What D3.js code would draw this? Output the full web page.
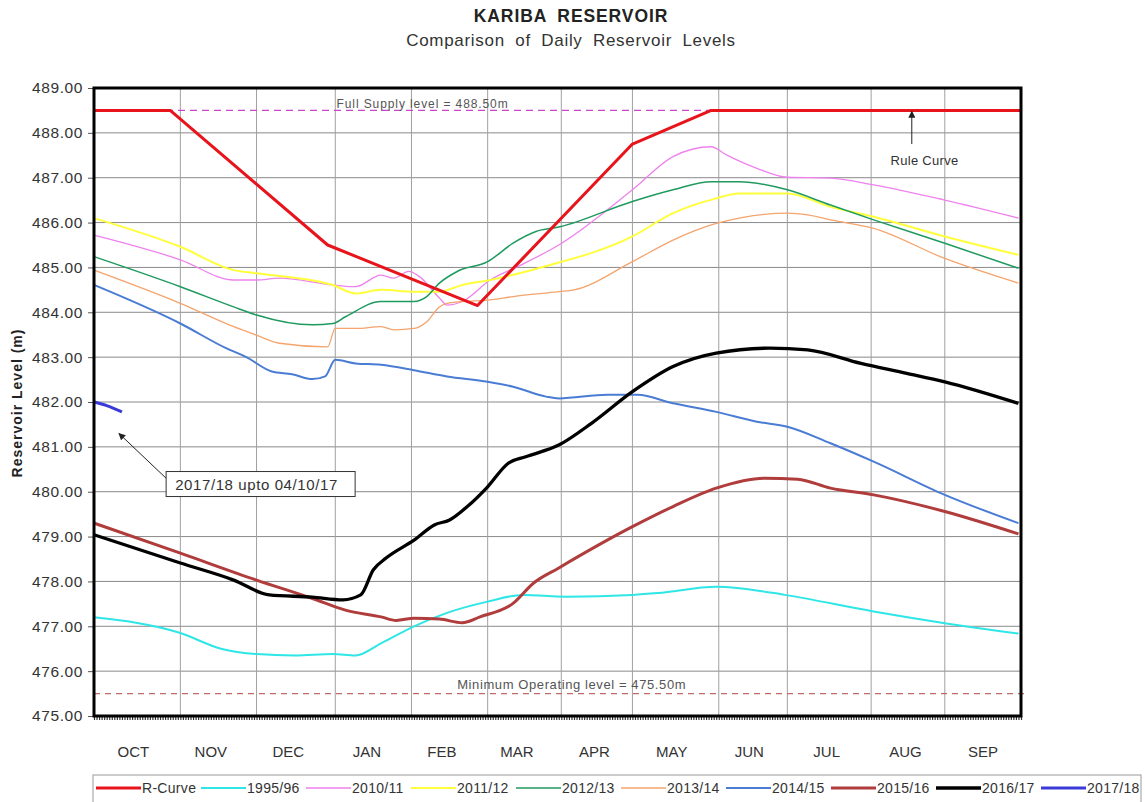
<!DOCTYPE html>
<html>
<head>
<meta charset="utf-8">
<title>Kariba Reservoir</title>
<script src="https://cdn.jsdelivr.net/npm/d3@7"></script>
<style>
    body { margin: 0; background: #fff; }
    svg { font-family: "Liberation Sans", Arial, sans-serif; }
    .gridH { stroke: #8a8a8a; stroke-width: 1; }
    .gridV { stroke: #a0a0a0; stroke-width: 1; }
    .mlab { font-size: 15px; fill: #333; }
    .legtext { font-size: 14px; fill: #333; letter-spacing: 0.3px; }
</style>
</head>
<body>
<script>
//day of hydrological year (0 = 1 Oct) and level in metres
var rCurve = [[0, 488.5], [30, 488.5], [92, 485.5], [151, 484.15], [212, 487.75], [243, 488.5], [365, 488.5]];

var y1995 = [[0, 477.2], [34, 476.85], [50, 476.5], [64, 476.38], [79, 476.35], [94, 476.38], [103, 476.35],
    [113, 476.62], [126, 477.0], [139, 477.3], [155, 477.55], [169, 477.7], [186, 477.66], [212, 477.7],
    [222, 477.74], [245, 477.88], [254, 477.85], [272, 477.7], [307, 477.33], [335, 477.07], [364, 476.84]];

var y2010 = [[0, 485.72], [34, 485.17], [55, 484.72], [64, 484.72], [73, 484.76], [94, 484.61], [103, 484.57],
    [113, 484.83], [118, 484.76], [124, 484.91], [128, 484.8], [136, 484.32], [139, 484.16], [145, 484.24],
    [156, 484.72], [168, 485.05], [183, 485.5], [212, 486.73], [228, 487.47], [243, 487.69], [249, 487.51],
    [261, 487.21], [273, 487.01], [290, 486.99], [307, 486.84], [335, 486.5], [364, 486.1]];

var y2011 = [[0, 486.1], [34, 485.46], [55, 484.94], [64, 484.87], [94, 484.61], [103, 484.42], [113, 484.5],
    [126, 484.46], [136, 484.46], [145, 484.61], [156, 484.72], [176, 485.0], [212, 485.69], [228, 486.21],
    [245, 486.54], [254, 486.65], [273, 486.65], [290, 486.35], [307, 486.13], [335, 485.69], [364, 485.28]];

var y2012 = [[0, 485.24], [34, 484.57], [55, 484.12], [64, 483.94], [86, 483.72], [94, 483.75], [99, 483.9],
    [113, 484.24], [126, 484.24], [131, 484.35], [136, 484.65], [143, 484.91], [155, 485.13], [165, 485.54],
    [174, 485.8], [183, 485.9], [212, 486.47], [228, 486.73], [243, 486.91], [254, 486.91], [273, 486.73],
    [290, 486.39], [307, 486.06], [335, 485.54], [364, 484.98]];

var y2013 = [[0, 484.94], [34, 484.2], [55, 483.68], [64, 483.49], [73, 483.31], [92, 483.23], [95, 483.64],
    [103, 483.64], [113, 483.68], [118, 483.61], [126, 483.64], [131, 483.79], [136, 484.12], [139, 484.2],
    [145, 484.24], [155, 484.27], [165, 484.35], [183, 484.46], [189, 484.5], [212, 485.13], [228, 485.61],
    [245, 485.98], [254, 486.1], [273, 486.21], [281, 486.17], [290, 486.06], [307, 485.87], [335, 485.2],
    [364, 484.65]];

var y2014 = [[0, 484.61], [34, 483.75], [52, 483.2], [60, 483.0], [70, 482.68], [78, 482.62], [86, 482.51],
    [91, 482.57], [95, 482.94], [103, 482.86], [113, 482.83], [126, 482.71], [139, 482.57], [155, 482.45],
    [165, 482.34], [178, 482.12], [183, 482.08], [202, 482.16], [214, 482.16], [228, 481.97], [245, 481.78],
    [261, 481.56], [273, 481.45], [290, 481.08], [307, 480.67], [335, 479.93], [364, 479.3]];

var y2015 = [[0, 479.3], [34, 478.63], [64, 478.03], [86, 477.62], [99, 477.36], [113, 477.21], [119, 477.13],
    [126, 477.18], [136, 477.16], [145, 477.08], [152, 477.21], [165, 477.51], [173, 477.96], [183, 478.3],
    [212, 479.22], [228, 479.67], [245, 480.08], [264, 480.3], [277, 480.28], [290, 480.08], [307, 479.93],
    [335, 479.56], [364, 479.06]];

var y2016 = [[0, 479.04], [34, 478.41], [55, 478.03], [69, 477.7], [86, 477.65], [98, 477.59], [105, 477.7],
    [110, 478.26], [115, 478.52], [126, 478.92], [134, 479.26], [140, 479.37], [147, 479.67], [155, 480.11],
    [163, 480.63], [170, 480.78], [183, 481.04], [196, 481.53], [212, 482.23], [228, 482.79], [245, 483.09],
    [266, 483.2], [281, 483.16], [302, 482.86], [320, 482.64], [335, 482.45], [364, 481.97]];

var y2017 = [[0, 482.0], [5, 481.92], [11, 481.78]];

var seriesNames = ["R-Curve", "1995/96", "2010/11", "2011/12", "2012/13", "2013/14", "2014/15", "2015/16", "2016/17", "2017/18"];
var seriesData = [rCurve, y1995, y2010, y2011, y2012, y2013, y2014, y2015, y2016, y2017];
var seriesColors = ["#e8141c", "#2ee6e6", "#ee82ee", "#ffff3c", "#1f9a5e", "#f4a46c", "#4a7cd4", "#b03c3c", "#000000", "#3a3ad8"];
var seriesWidths = [3, 2, 1.3, 2, 1.5, 1.3, 2, 3, 3.3, 3];

var monthNames = ["OCT", "NOV", "DEC", "JAN", "FEB", "MAR", "APR", "MAY", "JUN", "JUL", "AUG", "SEP"];
//vertical grid lines as they sit in the picture (day of year)
var gridDays = [34, 64, 95, 125, 155, 184, 212, 246, 273, 306, 335];
var yTicks = [475, 476, 477, 478, 479, 480, 481, 482, 483, 484, 485, 486, 487, 488, 489];
var fullSupply = 488.5,
    minOperating = 475.5;

window.onload = drawChart();

function drawChart(){
    var width = 1145,
        height = 802;
    var margin = {left: 94, top: 88, right: 124, bottom: 86};
    var plotW = width - margin.left - margin.right,
        plotH = height - margin.top - margin.bottom;

    var svg = d3.select("body")
        .append("svg")
        .attr("width", width)
        .attr("height", height);

    //titles
    svg.append("text")
        .attr("x", 571).attr("y", 22)
        .attr("text-anchor", "middle")
        .style("font-size", "17.5px").style("font-weight", "bold").style("fill", "#222")
        .style("letter-spacing", "0.9px").style("word-spacing", "5px")
        .text("KARIBA RESERVOIR");
    svg.append("text")
        .attr("x", 571).attr("y", 46)
        .attr("text-anchor", "middle")
        .style("font-size", "17px").style("fill", "#333")
        .style("letter-spacing", "0.7px").style("word-spacing", "5px")
        .text("Comparison of Daily Reservoir Levels");

    var g = svg.append("g")
        .attr("transform", "translate(" + margin.left + "," + margin.top + ")");

    //scales
    var x = d3.scaleLinear().domain([0, 365]).range([0, plotW]);
    var y = d3.scaleLinear().domain([475, 489]).range([plotH, 0]);

    //month starts from the calendar, used to centre the month names
    var start = new Date(2016, 9, 1);
    var monthStarts = d3.timeMonth.range(start, new Date(2017, 9, 2)).map(function(d){
        return d3.timeDay.count(start, d);
    });

    //grid lines
    g.selectAll(".gridH")
        .data(yTicks.slice(1, -1))
        .enter()
        .append("line")
        .attr("class", "gridH")
        .attr("x1", 0).attr("x2", plotW)
        .attr("y1", function(d){ return y(d); })
        .attr("y2", function(d){ return y(d); });

    g.selectAll(".gridV")
        .data(gridDays)
        .enter()
        .append("line")
        .attr("class", "gridV")
        .attr("x1", function(d){ return x(d); })
        .attr("x2", function(d){ return x(d); })
        .attr("y1", 0).attr("y2", plotH);

    //y axis labels and ticks
    var yAxis = d3.axisLeft(y)
        .tickValues(yTicks)
        .tickSize(6)
        .tickPadding(5)
        .tickFormat(d3.format(".2f"));
    var ya = g.append("g").call(yAxis);
    ya.select(".domain").remove();
    ya.selectAll("line").attr("stroke", "#555");
    ya.selectAll("text")
        .style("font-size", "15.5px").style("fill", "#333")
        .style("letter-spacing", "0.6px")
        .style("font-family", "'Liberation Sans', Arial, sans-serif");

    //bottom daily ticks
    var xAxis = d3.axisBottom(x)
        .tickValues(d3.range(0, 366))
        .tickSize(4)
        .tickFormat("");
    var xa = g.append("g")
        .attr("transform", "translate(0," + plotH + ")")
        .call(xAxis);
    xa.select(".domain").remove();
    xa.selectAll("line").attr("stroke", "#333").attr("stroke-width", 1.2);

    //month labels, centred in each month
    g.selectAll(".mlab")
        .data(monthNames)
        .enter()
        .append("text")
        .attr("class", "mlab")
        .attr("x", function(d, i){ return x((monthStarts[i] + monthStarts[i + 1]) / 2); })
        .attr("y", plotH + 41)
        .attr("text-anchor", "middle")
        .text(function(d){ return d; });

    //y axis title
    svg.append("text")
        .attr("transform", "translate(22," + (margin.top + plotH / 2 + 1) + ") rotate(-90)")
        .attr("text-anchor", "middle")
        .style("font-size", "14px").style("font-weight", "bold").style("fill", "#222")
        .style("letter-spacing", "1px")
        .text("Reservoir Level (m)");

    //reference levels
    g.append("line")
        .attr("x1", 0).attr("x2", plotW)
        .attr("y1", y(fullSupply)).attr("y2", y(fullSupply))
        .attr("stroke", "#cc44cc").attr("stroke-width", 1.2)
        .attr("stroke-dasharray", "7,5");
    g.append("text")
        .attr("x", x(95.5)).attr("y", y(fullSupply) - 2)
        .style("font-size", "12px").style("fill", "#555")
        .style("letter-spacing", "0.9px")
        .text("Full Supply level = 488.50m");

    g.append("line")
        .attr("x1", 0).attr("x2", plotW + 6)
        .attr("y1", y(minOperating)).attr("y2", y(minOperating))
        .attr("stroke", "#c06a6a").attr("stroke-width", 1.2)
        .attr("stroke-dasharray", "6,5");
    g.append("text")
        .attr("x", x(143)).attr("y", y(minOperating) - 5)
        .style("font-size", "13px").style("fill", "#555")
        .style("letter-spacing", "0.6px")
        .text("Minimum Operating level = 475.50m");

    //series lines
    var lineSmooth = d3.line()
        .x(function(d){ return x(d[0]); })
        .y(function(d){ return y(d[1]); })
        .curve(d3.curveMonotoneX);
    var lineStraight = d3.line()
        .x(function(d){ return x(d[0]); })
        .y(function(d){ return y(d[1]); });

    //draw in the same stacking as the original (R-Curve over the thin lines)
    var order = [1, 2, 3, 4, 5, 6, 7, 8, 9, 0];
    order.forEach(function(i){
        g.append("path")
            .datum(seriesData[i])
            .attr("fill", "none")
            .attr("stroke", seriesColors[i])
            .attr("stroke-width", seriesWidths[i])
            .attr("stroke-linejoin", "round")
            .attr("d", i == 0 ? lineStraight : lineSmooth);
    });

    //plot frame
    g.append("rect")
        .attr("x", 0).attr("y", 0)
        .attr("width", plotW).attr("height", plotH)
        .attr("fill", "none")
        .attr("stroke", "#000").attr("stroke-width", 3);

    //arrow marker
    svg.append("defs").append("marker")
        .attr("id", "arrow")
        .attr("viewBox", "0 0 10 10")
        .attr("refX", 9).attr("refY", 5)
        .attr("markerWidth", 7).attr("markerHeight", 7)
        .attr("orient", "auto-start-reverse")
        .append("path")
        .attr("d", "M0,0 L10,5 L0,10 z")
        .attr("fill", "#222");

    //rule curve note
    g.append("line")
        .attr("x1", x(322)).attr("x2", x(322))
        .attr("y1", y(487.75)).attr("y2", y(488.48))
        .attr("stroke", "#222").attr("stroke-width", 1)
        .attr("marker-end", "url(#arrow)");
    g.append("text")
        .attr("x", x(327)).attr("y", y(487.28))
        .attr("text-anchor", "middle")
        .style("font-size", "13px").style("fill", "#333")
        .style("letter-spacing", "0.3px")
        .text("Rule Curve");

    //2017/18 note
    var noteX = x(28.4), noteY = y(480.45);
    g.append("line")
        .attr("x1", noteX).attr("y1", y(480.3))
        .attr("x2", x(9.8)).attr("y2", y(481.3))
        .attr("stroke", "#222").attr("stroke-width", 1)
        .attr("marker-end", "url(#arrow)");
    g.append("rect")
        .attr("x", noteX).attr("y", noteY)
        .attr("width", 189).attr("height", 25)
        .attr("fill", "#fff")
        .attr("stroke", "#333").attr("stroke-width", 1);
    g.append("text")
        .attr("x", noteX + 9).attr("y", noteY + 18)
        .style("font-size", "15px").style("fill", "#333")
        .style("letter-spacing", "0.6px")
        .text("2017/18 upto 04/10/17");

    //legend
    var legend = svg.append("g").attr("transform", "translate(93,775)");
    legend.append("rect")
        .attr("x", 0).attr("y", 0)
        .attr("width", 1048).attr("height", 40)
        .attr("fill", "#fff")
        .attr("stroke", "#999").attr("stroke-width", 1);
    var items = legend.selectAll(".legitem")
        .data(seriesNames)
        .enter()
        .append("g")
        .attr("transform", function(d, i){ return "translate(" + (49 + i * 105) + ",0)"; });
    items.append("line")
        .attr("x1", -46).attr("x2", -1)
        .attr("y1", 13).attr("y2", 13)
        .attr("stroke", function(d, i){ return seriesColors[i]; })
        .attr("stroke-width", function(d, i){ return seriesWidths[i]; });
    items.append("text")
        .attr("class", "legtext")
        .attr("x", 0).attr("y", 18)
        .text(function(d){ return d; });
};
</script>
</body>
</html>
